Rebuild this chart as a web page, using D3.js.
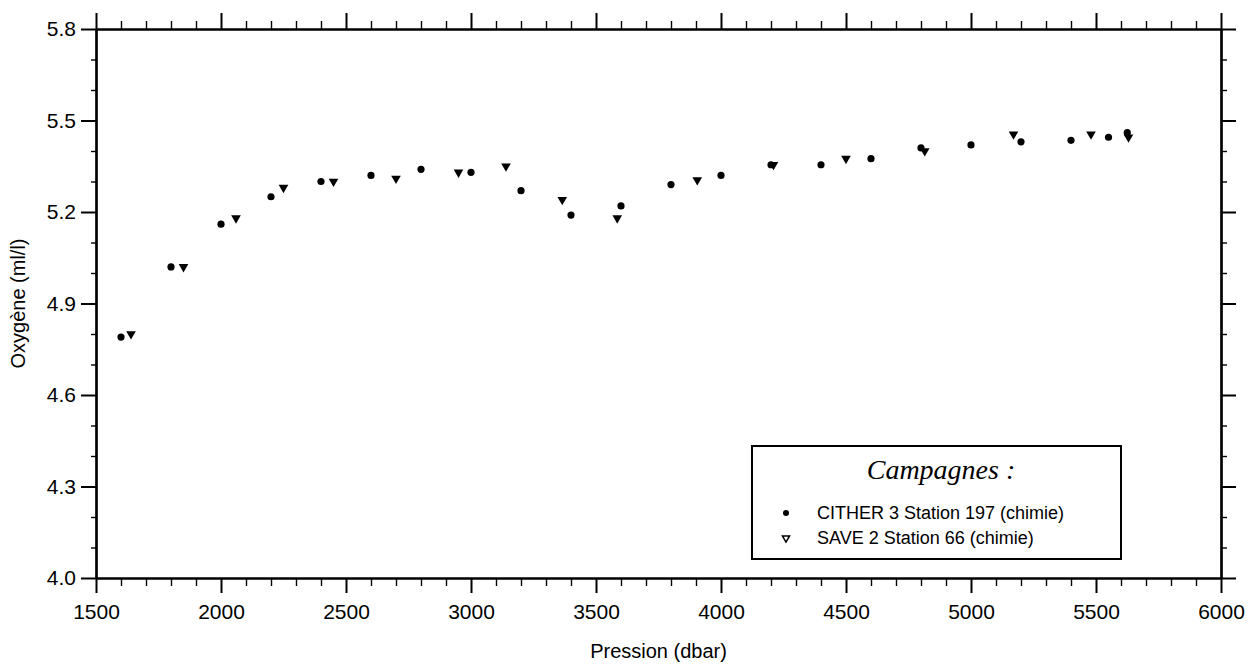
<!DOCTYPE html>
<html>
<head>
<meta charset="utf-8">
<script src="https://cdn.jsdelivr.net/npm/d3@7"></script>
<style>
  html, body { margin: 0; padding: 0; background: #fff; }
  svg { display: block; }
  text { font-family: "Liberation Sans", Arial, sans-serif; fill: #000; }
  text.legend-title { font-family: "Liberation Serif", "Times New Roman", serif; font-style: italic; }
</style>
</head>
<body>
<svg id="chart" width="1250" height="666"></svg>
<script>
// Oxygen profiles against pressure, two cruises
const citherPression = [1600, 1800, 2000, 2200, 2400, 2600, 2800, 3000, 3200, 3400, 3600, 3800, 4000, 4200, 4400, 4600, 4800, 5000, 5200, 5400, 5550, 5625];
const citherOxygene  = [4.79, 5.02, 5.16, 5.25, 5.30, 5.32, 5.34, 5.33, 5.27, 5.19, 5.22, 5.29, 5.32, 5.355, 5.355, 5.375, 5.41, 5.42, 5.43, 5.435, 5.445, 5.46];

const savePression = [1640, 1850, 2060, 2250, 2450, 2700, 2950, 3140, 3365, 3585, 3905, 4210, 4500, 4815, 5170, 5480, 5630];
const saveOxygene  = [4.80, 5.02, 5.18, 5.28, 5.30, 5.31, 5.33, 5.35, 5.24, 5.18, 5.305, 5.355, 5.375, 5.40, 5.455, 5.455, 5.445];

const xMajorTicks = [1500, 2000, 2500, 3000, 3500, 4000, 4500, 5000, 5500, 6000];
const yMajorTicks = [4.0, 4.3, 4.6, 4.9, 5.2, 5.5, 5.8];
const legendLabels = ["CITHER 3 Station 197 (chimie)", "SAVE 2 Station 66 (chimie)"];

const svg = d3.select("#chart");
const plotLeft = 96, plotRight = 1221, plotTop = 29, plotBottom = 578;

const x = d3.scaleLinear().domain([1500, 6000]).range([plotLeft, plotRight]);
const y = d3.scaleLinear().domain([4.0, 5.8]).range([plotBottom, plotTop]);

const xMinor = d3.range(1500, 6001, 100).filter(v => v % 500 !== 0);
const yMinor = d3.range(40, 59, 1).filter(v => (v - 40) % 3 !== 0).map(v => v / 10);

function styleAxis(g, width) {
  g.select(".domain").attr("stroke", "#000").attr("stroke-width", 2.2);
  g.selectAll(".tick line").attr("stroke", "#000").attr("stroke-width", width);
}

// minor ticks first so the frame lines sit on top
svg.append("g").attr("transform", `translate(0,${plotBottom})`)
  .call(d3.axisBottom(x).tickValues(xMinor).tickSize(8).tickSizeOuter(0).tickFormat(""))
  .call(g => styleAxis(g, 1.4));
svg.append("g").attr("transform", `translate(0,${plotTop})`)
  .call(d3.axisTop(x).tickValues(xMinor).tickSize(8).tickSizeOuter(0).tickFormat(""))
  .call(g => styleAxis(g, 1.4));
svg.append("g").attr("transform", `translate(${plotLeft},0)`)
  .call(d3.axisLeft(y).tickValues(yMinor).tickSize(5).tickSizeOuter(0).tickFormat(""))
  .call(g => styleAxis(g, 1.4));
svg.append("g").attr("transform", `translate(${plotRight},0)`)
  .call(d3.axisRight(y).tickValues(yMinor).tickSize(6).tickSizeOuter(0).tickFormat(""))
  .call(g => styleAxis(g, 1.4));

// major ticks and labels
const xAxis = svg.append("g").attr("transform", `translate(0,${plotBottom})`)
  .call(d3.axisBottom(x).tickValues(xMajorTicks).tickSize(15).tickSizeOuter(0).tickPadding(11).tickFormat(d3.format("d")))
  .call(g => styleAxis(g, 2));
xAxis.selectAll(".tick text").attr("font-size", 21);

svg.append("g").attr("transform", `translate(0,${plotTop})`)
  .call(d3.axisTop(x).tickValues(xMajorTicks).tickSize(16).tickSizeOuter(0).tickFormat(""))
  .call(g => styleAxis(g, 2));

const yAxis = svg.append("g").attr("transform", `translate(${plotLeft},0)`)
  .call(d3.axisLeft(y).tickValues(yMajorTicks).tickSize(15).tickSizeOuter(0).tickPadding(5).tickFormat(d3.format(".1f")))
  .call(g => styleAxis(g, 2));
yAxis.selectAll(".tick text").attr("font-size", 21);

svg.append("g").attr("transform", `translate(${plotRight},0)`)
  .call(d3.axisRight(y).tickValues(yMajorTicks).tickSize(15).tickSizeOuter(0).tickFormat(""))
  .call(g => styleAxis(g, 2));

// axis titles
svg.append("text")
  .attr("x", (plotLeft + plotRight) / 2).attr("y", 658)
  .attr("text-anchor", "middle").attr("font-size", 20)
  .text("Pression (dbar)");
svg.append("text")
  .attr("transform", `translate(25,${(plotTop + plotBottom) / 2}) rotate(-90)`)
  .attr("text-anchor", "middle").attr("font-size", 20)
  .text("Oxygène (ml/l)");

// data points
const citherData = citherPression.map((p, i) => ({ p, o: citherOxygene[i] }));
const saveData = savePression.map((p, i) => ({ p, o: saveOxygene[i] }));

svg.append("g").selectAll("circle").data(citherData).join("circle")
  .attr("cx", d => x(d.p)).attr("cy", d => y(d.o)).attr("r", 3.6)
  .attr("fill", "#000");

const tri = d3.symbol().type(d3.symbolTriangle).size(40);
svg.append("g").selectAll("path").data(saveData).join("path")
  .attr("d", tri)
  .attr("transform", d => `translate(${x(d.p)},${y(d.o)}) rotate(180)`)
  .attr("fill", "#000");

// legend
const lg = svg.append("g");
const box = { x0: 752, x1: 1121, y0: 446, y1: 559 };
lg.append("rect")
  .attr("x", box.x0).attr("y", box.y0)
  .attr("width", box.x1 - box.x0).attr("height", box.y1 - box.y0)
  .attr("fill", "#fff").attr("stroke", "#000").attr("stroke-width", 2);
lg.append("text")
  .attr("class", "legend-title")
  .attr("x", 941).attr("y", 479)
  .attr("text-anchor", "middle")
  .attr("font-size", 28)
  .text("Campagnes :");

const rowY = [513, 538];
lg.append("circle").attr("cx", 786).attr("cy", rowY[0]).attr("r", 3).attr("fill", "#000");
lg.append("path")
  .attr("d", d3.symbol().type(d3.symbolTriangle).size(22))
  .attr("transform", `translate(786,${rowY[1]}) rotate(180)`)
  .attr("fill", "#fff").attr("stroke", "#000").attr("stroke-width", 1.5);
lg.selectAll("text.entry").data(legendLabels).join("text")
  .attr("class", "entry")
  .attr("x", 817).attr("y", (d, i) => rowY[i]).attr("dy", "0.35em")
  .attr("font-size", 18)
  .text(d => d);
</script>
</body>
</html>
